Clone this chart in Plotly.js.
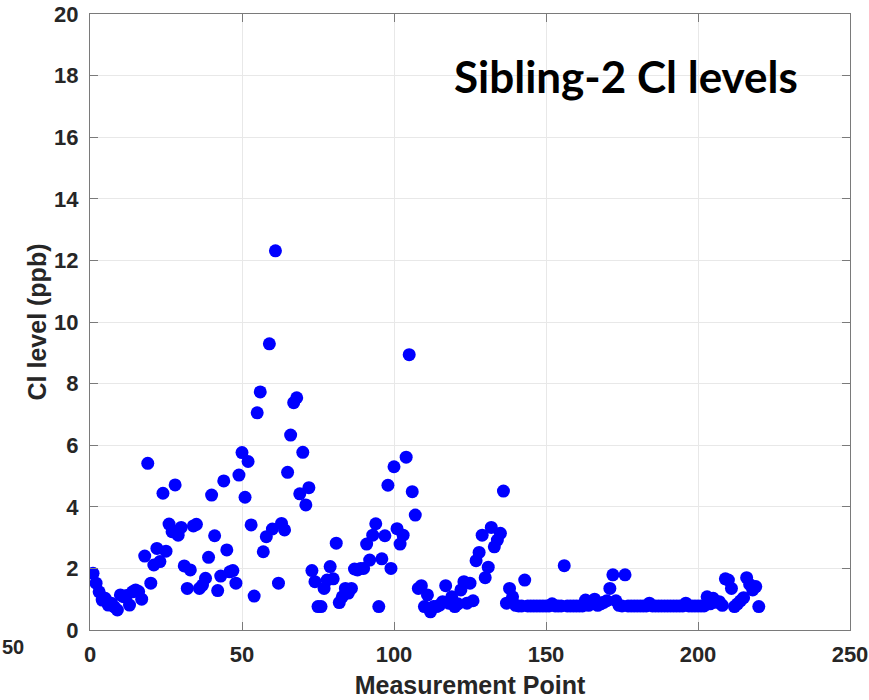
<!DOCTYPE html>
<html>
<head>
<meta charset="utf-8">
<script src="https://cdn.plot.ly/plotly-3.0.1.min.js"></script>
<style>html,body{margin:0;padding:0;background:#fff;}#chart{width:869px;height:700px;}</style>
</head>
<body>
<div id="chart"></div>
<script>
// Measurement point index
const measurementPoint = [
  1,2,3,4,5,6,7,8,9,10,11,12,13,14,15,16,17,18,19,20,
  21,22,23,24,25,26,27,28,29,30,31,32,33,34,35,36,37,38,39,40,
  41,42,43,44,45,46,47,48,49,50,51,52,53,54,55,56,57,58,59,60,
  61,62,63,64,65,66,67,68,69,70,71,72,73,74,75,76,77,78,79,80,
  81,82,83,84,85,86,87,88,89,90,91,92,93,94,95,96,97,98,99,100,
  101,102,103,104,105,106,107,108,109,110,111,112,113,114,115,116,117,118,119,120,
  121,122,123,124,125,126,127,128,129,130,131,132,133,134,135,136,137,138,139,140,
  141,142,143,144,145,146,147,148,149,150,151,152,153,154,155,156,157,158,159,160,
  161,162,163,164,165,166,167,168,169,170,171,172,173,174,175,176,177,178,179,180,
  181,182,183,184,185,186,187,188,189,190,191,192,193,194,195,196,197,198,199,200,
  201,202,203,204,205,206,207,208,209,210,211,212,213,214,215,216,217,218,219,220
];
// Cl level (ppb)
const clLevel = [
  1.84,1.52,1.24,0.97,1.03,0.81,0.87,0.75,0.65,1.14,1.08,1.12,0.81,1.24,1.30,1.25,1.00,2.40,5.41,1.52,
  2.11,2.65,2.22,4.44,2.56,3.44,3.19,4.71,3.08,3.33,2.08,1.35,1.95,3.38,3.43,1.35,1.46,1.68,2.36,4.38,
  3.06,1.28,1.75,4.84,2.60,1.89,1.93,1.52,5.03,5.76,4.31,5.47,3.41,1.10,7.05,7.73,2.54,3.03,9.29,3.28,
  12.31,1.52,3.46,3.25,5.12,6.33,7.38,7.54,4.42,5.77,4.06,4.62,1.93,1.57,0.76,0.76,1.35,1.62,2.06,1.66,
  2.82,0.89,1.08,1.35,1.20,1.35,1.98,1.95,2.00,2.00,2.79,2.27,3.08,3.45,0.76,2.31,3.06,4.70,2.00,5.30,
  3.29,2.79,3.08,5.61,8.94,4.49,3.73,1.35,1.44,0.76,1.14,0.59,0.76,0.76,0.81,0.92,1.44,0.87,1.08,0.76,
  0.85,1.30,1.57,0.87,1.52,0.95,2.25,2.52,3.08,1.70,2.04,3.33,2.70,2.92,3.14,4.51,0.87,1.35,1.08,0.80,
  0.78,0.78,1.62,0.78,0.78,0.78,0.78,0.78,0.78,0.78,0.78,0.85,0.78,0.78,0.78,2.09,0.78,0.78,0.78,0.78,
  0.78,0.78,0.97,0.80,0.85,1.00,0.80,0.85,0.90,0.95,1.35,1.79,0.95,0.80,0.78,1.79,0.78,0.78,0.78,0.78,
  0.78,0.78,0.78,0.87,0.78,0.78,0.78,0.78,0.78,0.78,0.78,0.78,0.78,0.78,0.78,0.87,0.78,0.78,0.78,0.78,
  0.78,0.78,1.08,0.85,1.03,0.90,0.92,0.80,1.66,1.62,1.35,0.76,0.85,0.95,1.05,1.70,1.48,1.30,1.41,0.76
];
const xTicks = [0, 50, 100, 150, 200, 250];
const yTicks = [0, 2, 4, 6, 8, 10, 12, 14, 16, 18, 20];

const axisFont = {family: 'Liberation Sans, Arial, sans-serif', size: 22, color: '#262626', weight: 'bold'};
const titleFont = {family: 'Liberation Sans, Arial, sans-serif', size: 25, color: '#262626', weight: 'bold'};

const trace = {
  x: measurementPoint,
  y: clLevel,
  type: 'scatter',
  mode: 'markers',
  marker: {color: '#0000ff', size: 13, line: {width: 0}},
  hoverinfo: 'x+y'
};

const axisCommon = {
  ticks: 'inside', ticklen: 8, tickwidth: 1, tickcolor: '#7a7a7a',
  showline: true, linecolor: '#7a7a7a', linewidth: 1, mirror: 'ticks',
  showgrid: true, gridcolor: '#e8e8e8', gridwidth: 1, zeroline: false,
  tickfont: axisFont, automargin: false
};

const layout = {
  width: 869, height: 700,
  margin: {l: 90, r: 19, t: 14, b: 70},
  paper_bgcolor: '#ffffff', plot_bgcolor: '#ffffff',
  showlegend: false,
  xaxis: Object.assign({}, axisCommon, {
    range: [0, 250], tickmode: 'array', tickvals: xTicks, ticktext: xTicks.map(String),
    ticklabelstandoff: 5,
    title: {text: 'Measurement Point', font: titleFont, standoff: 10}
  }),
  yaxis: Object.assign({}, axisCommon, {
    range: [0, 20], tickmode: 'array', tickvals: yTicks, ticktext: yTicks.map(String),
    ticklabelstandoff: 6,
    title: {text: 'Cl level (ppb)', font: titleFont, standoff: 0}
  }),
  annotations: [
    {text: 'Sibling-2 Cl levels', xref: 'paper', yref: 'paper', x: 0.705, y: 0.899,
     xanchor: 'center', yanchor: 'middle', showarrow: false,
     font: {family: 'Lato, Open Sans, sans-serif', size: 44, color: '#000000', weight: 'bold'}},
    {text: '50', xref: 'paper', yref: 'paper', x: -0.1184, y: -0.0284,
     xanchor: 'left', yanchor: 'middle', showarrow: false,
     font: {family: 'Liberation Sans, Arial, sans-serif', size: 20, color: '#262626', weight: 'bold'}}
  ]
};

Plotly.newPlot('chart', [trace], layout, {displayModeBar: false, staticPlot: true});
</script>
</body>
</html>
